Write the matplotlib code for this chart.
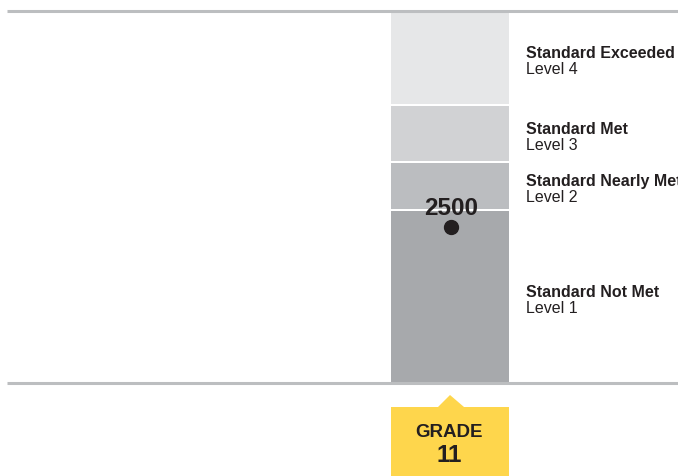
import matplotlib
matplotlib.use("Agg")
import matplotlib.pyplot as plt
from matplotlib.patches import Rectangle, Polygon

plt.rcParams['font.family'] = ['Liberation Sans', 'DejaVu Sans']

# Data
levels = ["Standard Not Met", "Standard Nearly Met", "Standard Met", "Standard Exceeded"]
level_names = ["Level 1", "Level 2", "Level 3", "Level 4"]
cuts = [2250, 2526, 2604, 2694, 2845]   # scale min, level cut scores, scale max
score = 2500
grade = "11"
colors = ["#a7a9ac", "#bbbdc0", "#d1d2d4", "#e6e7e8"]

W, H = 678, 477
fig = plt.figure(figsize=(W / 100, H / 100), dpi=100)
ax = fig.add_axes([0, 0, 1, 1])

# vertical mapping: cuts[0] at pixel 384, cuts[-1] at pixel 12
s = (cuts[-1] - cuts[0]) / (384 - 12)
ax.set_ylim(cuts[0] - (H - 384) * s, cuts[-1] + 12 * s)
ax.set_xlim(0, W)
ax.axis("off")

bar_x0, bar_w = 391, 118
gap = 2 * s
for i in range(4):
    lo = cuts[i]
    hi = cuts[i + 1]
    y0 = lo + (gap / 2 if i > 0 else 0)
    y1 = hi - (gap / 2 if i < 3 else 0)
    ax.add_patch(Rectangle((bar_x0, y0), bar_w, y1 - y0, facecolor=colors[i],
                           edgecolor="none", zorder=2))
    mid = (lo + hi) / 2
    ax.text(526, mid + 1 * s, levels[i], fontsize=11.5, fontweight="bold",
            color="#231f20", va="baseline", ha="left", zorder=4)
    ax.text(526, mid - 15 * s, level_names[i], fontsize=11.5,
            color="#231f20", va="baseline", ha="left", zorder=4)

# horizontal rules
ax.plot([7, W], [cuts[-1]] * 2, color="#bcbec0", lw=2.2, zorder=3,
        solid_capstyle="butt")
ax.plot([7, W], [cuts[0]] * 2, color="#bcbec0", lw=2.2, zorder=3,
        solid_capstyle="butt")

# score marker
cx = bar_x0 + bar_w / 2 + 1
ax.plot([cx], [score], "o", color="#231f20", markersize=10, zorder=5)
ax.text(cx, score + 19.5 * s, str(score), fontsize=17.5, fontweight="bold",
        color="#231f20", ha="center", va="center", zorder=5)

# grade tag
yc = "#fed64c"
top_box = cuts[0] - 24 * s
bottom_box = cuts[0] - 93 * s
ax.add_patch(Rectangle((bar_x0, bottom_box), bar_w, top_box - bottom_box,
                       facecolor=yc, edgecolor="none", zorder=2))
ax.add_patch(Polygon([(cx - 13, top_box), (cx + 13, top_box),
                      (cx - 1, top_box + 12 * s)], closed=True,
                     facecolor=yc, edgecolor="none", zorder=2))
ax.text(cx - 2, cuts[0] - 49 * s, "GRADE", fontsize=13.5, fontweight="bold",
        color="#231f20", ha="center", va="center", zorder=5)
ax.text(cx - 2, cuts[0] - 71 * s, grade, fontsize=17.5, fontweight="bold",
        color="#231f20", ha="center", va="center", zorder=5)

fig.savefig("out.png", dpi=100)
